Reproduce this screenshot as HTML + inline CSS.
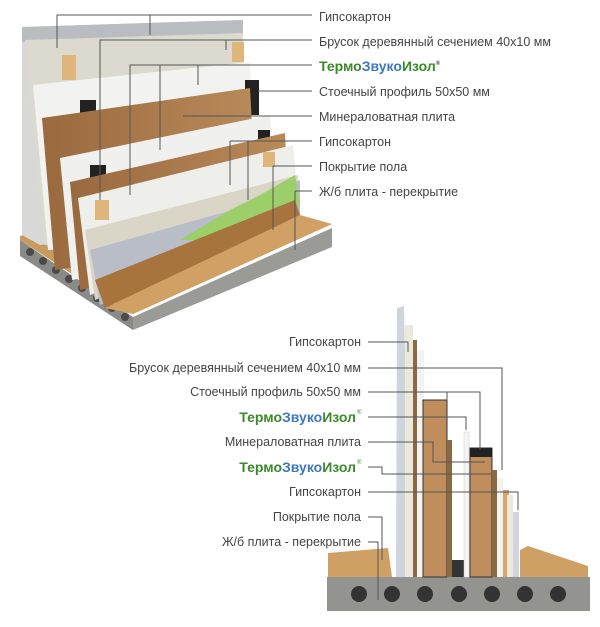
<!DOCTYPE html>
<html><head><meta charset="utf-8"><style>
body{margin:0;background:#fff;}
svg{display:block;}
text{font-family:"Liberation Sans",sans-serif;font-size:12.5px;fill:#444;}
.b{font-weight:bold;font-size:14px;}
</style></head><body>
<svg width="600" height="627" viewBox="0 0 600 627">
<defs>
<linearGradient id="br" x1="0" y1="0" x2="1" y2="0"><stop offset="0" stop-color="#9a6a3f"/><stop offset="1" stop-color="#b98a5a"/></linearGradient>
</defs>
<!-- TOP ILLUSTRATION -->
<polygon points="20,240 133,317 133,330 20,256" fill="#8a8a88"/>
<polygon points="133,317 332,228 332,247 133,330" fill="#9a9a96"/>
<g fill="#4a4a4a">
<circle cx="30" cy="252" r="4"/><circle cx="43" cy="261" r="4"/><circle cx="56" cy="270" r="4"/><circle cx="69" cy="279" r="4"/><circle cx="82" cy="288" r="4"/><circle cx="97" cy="298" r="4"/><circle cx="112" cy="308" r="4"/><circle cx="125" cy="317" r="4"/>
</g>
<polygon points="20,236 60,225 332,224 133,314 20,240" fill="#c99a5e"/>
<polygon points="22,27 243,20 243,225 40,245 22,235" fill="#d8d8d6"/>
<polygon points="22,27 243,20 243,35 22,42" fill="#b9bcc0"/>
<polygon points="25,40 243,33 243,220 45,245" fill="#dcdacf"/>
<rect x="62" y="55" width="14" height="25" fill="#deb57a"/>
<rect x="232" y="42" width="12" height="20" fill="#deb57a"/>
<polygon points="33,85 250,62 255,235 48,250" fill="#f2f3f0"/>
<rect x="80" y="100" width="16" height="40" fill="#222"/>
<rect x="245" y="80" width="14" height="35" fill="#222"/>
<polygon points="42,118 250,88 258,240 55,270" fill="url(#br)"/>
<polygon points="60,158 270,115 278,240 72,280" fill="#f0f1ee"/>
<rect x="258" y="130" width="12" height="28" fill="#222"/>
<rect x="90" y="165" width="16" height="28" fill="#222"/>
<polygon points="70,182 285,133 290,240 80,290" fill="url(#br)"/>
<polygon points="78,198 293,145 300,215 90,295" fill="#eeeeea"/>
<polygon points="85,230 298,175 300,215 95,300" fill="#d9d6c8"/>
<polygon points="90,250 250,205 300,180 300,215 100,305" fill="#b9bdc7"/>
<polygon points="180,240 230,210 260,195 295,175 300,205 220,240" fill="#9ccf6a"/>
<rect x="95" y="200" width="14" height="20" fill="#deb57a"/>
<rect x="263" y="152" width="12" height="15" fill="#deb57a"/>
<polygon points="95,280 295,200 300,215 105,308" fill="#a8743e"/>
<polygon points="105,308 300,215 332,224 133,314" fill="#d0a064"/>
<g stroke="#555" stroke-width="1" fill="none">
<path d="M57,48 V15 H312"/><path d="M150,15 V35"/>
<path d="M100,200 V40 H312"/><path d="M226,40 V50"/>
<path d="M130,195 V65 H312"/><path d="M160,65 V150 M198,65 V85"/>
<path d="M258,91 H312"/>
<path d="M183,116 H312"/>
<path d="M230,141 H312"/><path d="M230,141 V185 M248,141 V200"/>
<path d="M273,166 H312"/><path d="M273,166 V230"/>
<path d="M295,191 H312"/><path d="M295,191 V250"/>
</g>
<text x="319" y="21">Гипсокартон</text>
<text x="319" y="46">Брусок деревянный сечением 40х10 мм</text>
<text x="319" y="71" class="b"><tspan fill="#3a8a2a">Термо</tspan><tspan fill="#3d78c0">Звуко</tspan><tspan fill="#3a8a2a">Изол</tspan><tspan font-size="6" dy="-6">®</tspan></text>
<text x="319" y="96">Стоечный профиль 50х50 мм</text>
<text x="319" y="121">Минераловатная плита</text>
<text x="319" y="146">Гипсокартон</text>
<text x="319" y="171">Покрытие пола</text>
<text x="319" y="196">Ж/б плита - перекрытие</text>

<!-- BOTTOM ILLUSTRATION -->
<polygon points="328,553 388,548 392,577 328,577" fill="#cfa064"/>
<polygon points="520,550 528,546 588,566 588,577 520,577" fill="#cfa064"/>
<rect x="327" y="577" width="263" height="34" fill="#939390"/>
<g fill="#333">
<circle cx="359" cy="594" r="8"/><circle cx="392" cy="594" r="8"/><circle cx="425" cy="594" r="8"/><circle cx="459" cy="594" r="8"/><circle cx="492" cy="594" r="8"/><circle cx="525" cy="594" r="8"/><circle cx="558" cy="594" r="8"/>
</g>
<polygon points="397,308 404,306 410,577 396,577" fill="#cfd4de"/>
<rect x="405" y="325" width="8" height="252" fill="#ece9dc"/>
<rect x="413" y="340" width="4" height="237" fill="#8a6a44"/>
<rect x="417" y="350" width="7" height="227" fill="#f2f2ee"/>
<rect x="423" y="400" width="24" height="177" fill="#c08e5c" stroke="#333" stroke-width="1"/>
<rect x="447" y="440" width="5" height="137" fill="#8a6a44"/>
<rect x="452" y="560" width="12" height="17" fill="#333"/>
<rect x="464" y="432" width="5" height="145" fill="#f4f4f4" stroke="#ccc" stroke-width="0.5"/>
<rect x="470" y="448" width="22" height="129" fill="#c08e5c" stroke="#333" stroke-width="1"/>
<rect x="470" y="448" width="22" height="9" fill="#222"/>
<rect x="492" y="470" width="5" height="107" fill="#8a6a44"/>
<rect x="497" y="478" width="6" height="99" fill="#f2f2ee"/>
<rect x="503" y="490" width="6" height="87" fill="#d6a66c"/>
<rect x="507" y="495" width="6" height="82" fill="#ece9dc"/>
<rect x="513" y="512" width="6" height="65" fill="#cfd4de"/>
<g stroke="#555" stroke-width="1" fill="none">
<path d="M368,342 H408 V352"/>
<path d="M368,368 H502 V470"/>
<path d="M368,392 H447 V400 M447,392 H480 V450"/>
<path d="M368,417 H466 V430"/>
<path d="M368,442 H433 V462 H485"/>
<path d="M368,467 H382 V474 H492"/>
<path d="M368,492 H518 V510"/>
<path d="M368,517 H382 V560"/>
<path d="M368,542 H378 V600"/>
</g>
<g text-anchor="end">
<text x="361" y="346">Гипсокартон</text>
<text x="361" y="372">Брусок деревянный сечением 40х10 мм</text>
<text x="361" y="396">Стоечный профиль 50х50 мм</text>
<text x="356" y="422" class="b"><tspan fill="#3a8a2a">Термо</tspan><tspan fill="#3d78c0">Звуко</tspan><tspan fill="#3a8a2a">Изол</tspan></text>
<text x="361" y="446">Минераловатная плита</text>
<text x="356" y="472" class="b"><tspan fill="#3a8a2a">Термо</tspan><tspan fill="#3d78c0">Звуко</tspan><tspan fill="#3a8a2a">Изол</tspan></text>
<text x="361" y="496">Гипсокартон</text>
<text x="361" y="521">Покрытие пола</text>
<text x="361" y="546">Ж/б плита - перекрытие</text>
</g>
<text x="357" y="414" style="font-size:6px;fill:#3a8a2a">®</text>
<text x="357" y="464" style="font-size:6px;fill:#3a8a2a">®</text>
</svg>
</body></html>
